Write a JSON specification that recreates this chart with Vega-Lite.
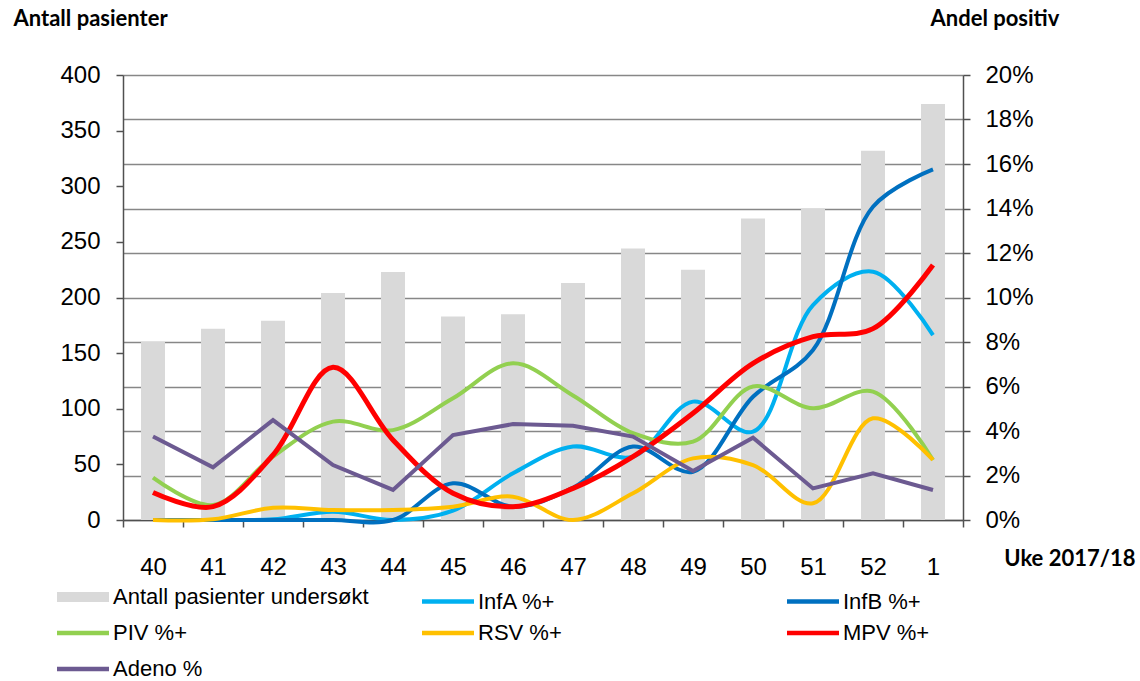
{
  "$schema": "https://vega.github.io/schema/vega-lite/v6.json",
  "width": 840,
  "height": 445,
  "autosize": {"type": "none"},
  "padding": {"left": 123, "top": 75, "right": 177, "bottom": 161},
  "background": "white",
  "config": {
    "view": {"stroke": null},
    "font": "Liberation Sans",
    "axis": {
      "labelFont": "Liberation Sans",
      "labelFontSize": 24,
      "labelColor": "#000000",
      "domainColor": "#505050",
      "domainWidth": 1.5,
      "tickColor": "#505050",
      "tickWidth": 1.5,
      "tickSize": 7,
      "titleFont": "Lato",
      "titleFontWeight": "bold",
      "titleFontSize": 22,
      "titleColor": "#000000"
    }
  },
  "datasets": {
    "antall": [
      {"uke": "40", "serie": "Antall pasienter undersøkt", "antall": 160},
      {"uke": "41", "serie": "Antall pasienter undersøkt", "antall": 172},
      {"uke": "42", "serie": "Antall pasienter undersøkt", "antall": 179},
      {"uke": "43", "serie": "Antall pasienter undersøkt", "antall": 204},
      {"uke": "44", "serie": "Antall pasienter undersøkt", "antall": 223},
      {"uke": "45", "serie": "Antall pasienter undersøkt", "antall": 183},
      {"uke": "46", "serie": "Antall pasienter undersøkt", "antall": 185},
      {"uke": "47", "serie": "Antall pasienter undersøkt", "antall": 213},
      {"uke": "48", "serie": "Antall pasienter undersøkt", "antall": 244},
      {"uke": "49", "serie": "Antall pasienter undersøkt", "antall": 225},
      {"uke": "50", "serie": "Antall pasienter undersøkt", "antall": 271},
      {"uke": "51", "serie": "Antall pasienter undersøkt", "antall": 280},
      {"uke": "52", "serie": "Antall pasienter undersøkt", "antall": 332},
      {"uke": "1", "serie": "Antall pasienter undersøkt", "antall": 374}
    ],
    "andel": [
      {"uke": "40", "serie": "InfA %+", "pct": 0},
      {"uke": "41", "serie": "InfA %+", "pct": 0},
      {"uke": "42", "serie": "InfA %+", "pct": 0.03},
      {"uke": "43", "serie": "InfA %+", "pct": 0.37},
      {"uke": "44", "serie": "InfA %+", "pct": 0},
      {"uke": "45", "serie": "InfA %+", "pct": 0.42},
      {"uke": "46", "serie": "InfA %+", "pct": 2.1},
      {"uke": "47", "serie": "InfA %+", "pct": 3.3},
      {"uke": "48", "serie": "InfA %+", "pct": 2.85},
      {"uke": "49", "serie": "InfA %+", "pct": 5.32},
      {"uke": "50", "serie": "InfA %+", "pct": 3.97},
      {"uke": "51", "serie": "InfA %+", "pct": 9.66},
      {"uke": "52", "serie": "InfA %+", "pct": 11.16},
      {"uke": "1", "serie": "InfA %+", "pct": 8.31},
      {"uke": "40", "serie": "InfB %+", "pct": 0},
      {"uke": "41", "serie": "InfB %+", "pct": 0},
      {"uke": "42", "serie": "InfB %+", "pct": 0},
      {"uke": "43", "serie": "InfB %+", "pct": 0},
      {"uke": "44", "serie": "InfB %+", "pct": 0},
      {"uke": "45", "serie": "InfB %+", "pct": 1.65},
      {"uke": "46", "serie": "InfB %+", "pct": 0.6},
      {"uke": "47", "serie": "InfB %+", "pct": 1.45},
      {"uke": "48", "serie": "InfB %+", "pct": 3.3},
      {"uke": "49", "serie": "InfB %+", "pct": 2.17},
      {"uke": "50", "serie": "InfB %+", "pct": 5.54},
      {"uke": "51", "serie": "InfB %+", "pct": 7.64},
      {"uke": "52", "serie": "InfB %+", "pct": 14.08},
      {"uke": "1", "serie": "InfB %+", "pct": 15.76},
      {"uke": "40", "serie": "PIV %+", "pct": 1.9},
      {"uke": "41", "serie": "PIV %+", "pct": 0.67},
      {"uke": "42", "serie": "PIV %+", "pct": 2.85},
      {"uke": "43", "serie": "PIV %+", "pct": 4.42},
      {"uke": "44", "serie": "PIV %+", "pct": 4.04},
      {"uke": "45", "serie": "PIV %+", "pct": 5.47},
      {"uke": "46", "serie": "PIV %+", "pct": 7.04},
      {"uke": "47", "serie": "PIV %+", "pct": 5.6},
      {"uke": "48", "serie": "PIV %+", "pct": 3.9},
      {"uke": "49", "serie": "PIV %+", "pct": 3.52},
      {"uke": "50", "serie": "PIV %+", "pct": 6.0},
      {"uke": "51", "serie": "PIV %+", "pct": 5.02},
      {"uke": "52", "serie": "PIV %+", "pct": 5.77},
      {"uke": "1", "serie": "PIV %+", "pct": 2.7},
      {"uke": "40", "serie": "RSV %+", "pct": 0},
      {"uke": "41", "serie": "RSV %+", "pct": 0.03},
      {"uke": "42", "serie": "RSV %+", "pct": 0.55},
      {"uke": "43", "serie": "RSV %+", "pct": 0.45},
      {"uke": "44", "serie": "RSV %+", "pct": 0.45},
      {"uke": "45", "serie": "RSV %+", "pct": 0.6},
      {"uke": "46", "serie": "RSV %+", "pct": 1.05},
      {"uke": "47", "serie": "RSV %+", "pct": 0},
      {"uke": "48", "serie": "RSV %+", "pct": 1.2},
      {"uke": "49", "serie": "RSV %+", "pct": 2.77},
      {"uke": "50", "serie": "RSV %+", "pct": 2.47},
      {"uke": "51", "serie": "RSV %+", "pct": 0.75},
      {"uke": "52", "serie": "RSV %+", "pct": 4.57},
      {"uke": "1", "serie": "RSV %+", "pct": 2.7},
      {"uke": "40", "serie": "MPV %+", "pct": 1.24},
      {"uke": "41", "serie": "MPV %+", "pct": 0.6},
      {"uke": "42", "serie": "MPV %+", "pct": 2.92},
      {"uke": "43", "serie": "MPV %+", "pct": 6.86},
      {"uke": "44", "serie": "MPV %+", "pct": 3.6},
      {"uke": "45", "serie": "MPV %+", "pct": 1.2},
      {"uke": "46", "serie": "MPV %+", "pct": 0.6},
      {"uke": "47", "serie": "MPV %+", "pct": 1.42},
      {"uke": "48", "serie": "MPV %+", "pct": 2.85},
      {"uke": "49", "serie": "MPV %+", "pct": 4.8},
      {"uke": "50", "serie": "MPV %+", "pct": 7.04},
      {"uke": "51", "serie": "MPV %+", "pct": 8.24},
      {"uke": "52", "serie": "MPV %+", "pct": 8.6},
      {"uke": "1", "serie": "MPV %+", "pct": 11.46},
      {"uke": "40", "serie": "Adeno %", "pct": 3.75},
      {"uke": "41", "serie": "Adeno %", "pct": 2.37},
      {"uke": "42", "serie": "Adeno %", "pct": 4.49},
      {"uke": "43", "serie": "Adeno %", "pct": 2.47},
      {"uke": "44", "serie": "Adeno %", "pct": 1.35},
      {"uke": "45", "serie": "Adeno %", "pct": 3.82},
      {"uke": "46", "serie": "Adeno %", "pct": 4.31},
      {"uke": "47", "serie": "Adeno %", "pct": 4.24},
      {"uke": "48", "serie": "Adeno %", "pct": 3.75},
      {"uke": "49", "serie": "Adeno %", "pct": 2.2},
      {"uke": "50", "serie": "Adeno %", "pct": 3.7},
      {"uke": "51", "serie": "Adeno %", "pct": 1.42},
      {"uke": "52", "serie": "Adeno %", "pct": 2.1},
      {"uke": "1", "serie": "Adeno %", "pct": 1.35}
    ]
  },
  "layer": [
    {
      "data": {"name": "antall"},
      "mark": {"type": "bar", "width": 24, "opacity": 1},
      "encoding": {
        "x": {
          "field": "uke", "type": "ordinal", "sort": null,
          "scale": {"paddingInner": 0, "paddingOuter": 0},
          "axis": {
            "orient": "bottom", "tickBand": "extent", "labelAngle": 0, "labelPadding": 28,
            "grid": false,
            "title": "Uke 2017/18", "titleX": 1012, "titleY": 38, "titleAlign": "right", "titleBaseline": "middle"
          }
        },
        "y": {
          "field": "antall", "type": "quantitative",
          "scale": {"domain": [0, 400], "nice": false},
          "axis": {
            "orient": "left", "values": [0, 50, 100, 150, 200, 250, 300, 350, 400], "grid": false,
            "labelPadding": 16,
            "title": "Antall pasienter", "titleAngle": 0, "titleX": -110, "titleY": -57,
            "titleAlign": "left", "titleBaseline": "middle"
          }
        },
        "color": {
          "field": "serie", "type": "nominal",
          "scale": {
            "domain": ["Antall pasienter undersøkt", "InfA %+", "InfB %+", "PIV %+", "RSV %+", "MPV %+", "Adeno %"],
            "range": ["#d9d9d9", "#00b0f0", "#0070c0", "#92d050", "#ffc000", "#ff0000", "#6c5a91"]
          },
          "legend": {
            "orient": "none", "legendX": -51, "legendY": 511,
            "direction": "horizontal", "columns": 3, "gridAlign": "all",
            "columnPadding": 44, "rowPadding": 5,
            "symbolType": "stroke", "symbolSize": 2704, "symbolStrokeWidth": 4, "symbolOpacity": 1,
            "labelFont": "Liberation Sans", "labelFontSize": 22, "labelColor": "#000000",
            "labelOffset": 19, "labelLimit": 400, "title": null,
            "encode": {
              "symbols": {
                "update": {
                  "stroke": {"signal": "scale('color', datum.value)"},
                  "strokeWidth": {"signal": "datum.value === 'Antall pasienter undersøkt' ? 10 : 4.5"},
                  "opacity": {"value": 1}
                }
              }
            }
          }
        }
      }
    },
    {
      "data": {"name": "andel"},
      "transform": [{"filter": "datum.serie != 'MPV %+' && datum.serie != 'Adeno %'"}],
      "mark": {"type": "line", "interpolate": "catmull-rom", "strokeWidth": 4},
      "encoding": {
        "x": {"field": "uke", "type": "ordinal", "sort": null},
        "y": {
          "field": "pct", "type": "quantitative",
          "scale": {"domain": [0, 20], "nice": false},
          "axis": {
            "orient": "right", "values": [0, 2, 4, 6, 8, 10, 12, 14, 16, 18, 20],
            "labelExpr": "datum.value + '%'",
            "grid": true, "gridColor": "#878787", "gridWidth": 1.5,
            "labelPadding": 15,
            "title": "Andel positiv", "titleAngle": 0, "titleX": -33, "titleY": -57,
            "titleAlign": "left", "titleBaseline": "middle"
          }
        },
        "color": {"field": "serie", "type": "nominal"},
        "detail": {"field": "serie"}
      }
    },
    {
      "data": {"name": "andel"},
      "transform": [{"filter": "datum.serie == 'MPV %+'"}],
      "mark": {"type": "line", "interpolate": "catmull-rom", "strokeWidth": 5},
      "encoding": {
        "x": {"field": "uke", "type": "ordinal", "sort": null},
        "y": {"field": "pct", "type": "quantitative", "scale": {"domain": [0, 20], "nice": false}, "axis": null},
        "color": {"field": "serie", "type": "nominal"}
      }
    },
    {
      "data": {"name": "andel"},
      "transform": [{"filter": "datum.serie == 'Adeno %'"}],
      "mark": {"type": "line", "interpolate": "linear", "strokeWidth": 4},
      "encoding": {
        "x": {"field": "uke", "type": "ordinal", "sort": null},
        "y": {"field": "pct", "type": "quantitative", "scale": {"domain": [0, 20], "nice": false}, "axis": null},
        "color": {"field": "serie", "type": "nominal"}
      }
    }
  ],
  "resolve": {"scale": {"y": "independent"}}
}
